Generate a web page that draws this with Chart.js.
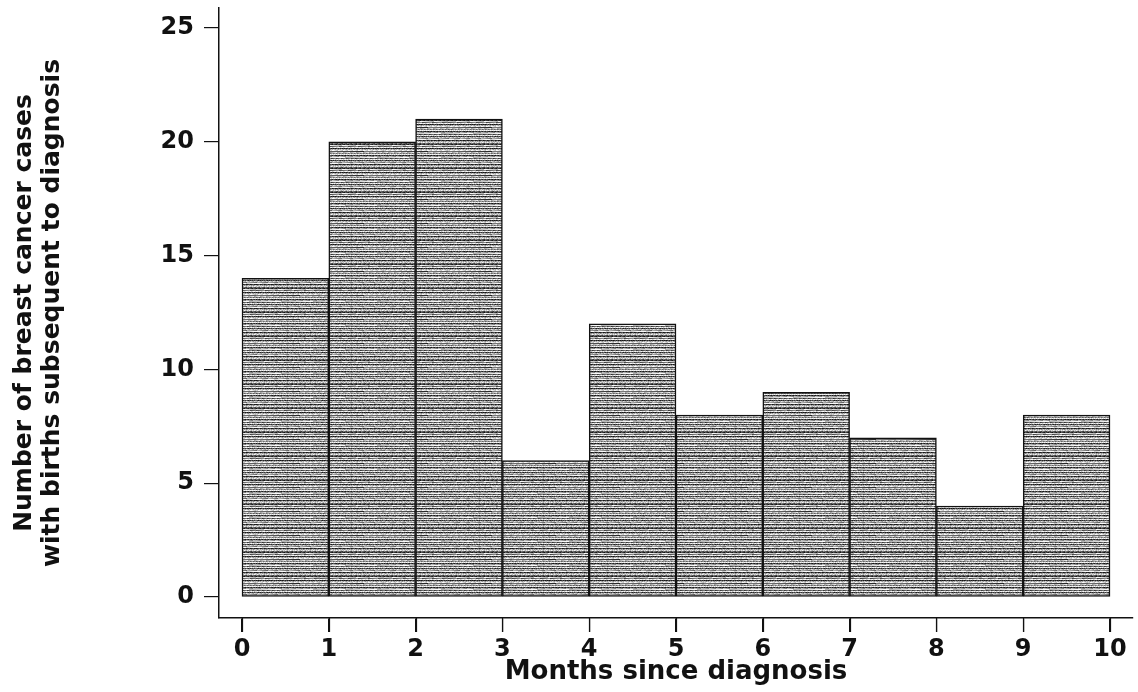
<!DOCTYPE html>
<html>
<head>
<meta charset="utf-8">
<script src="https://cdn.jsdelivr.net/npm/chart.js@4/dist/chart.umd.min.js"></script>
<style>
  html, body { margin: 0; padding: 0; background: #fff; }
  #wrap { width: 1138px; height: 692px; }
</style>
</head>
<body>
<div id="wrap"><canvas id="histChart"></canvas></div>
<script>
"use strict";
// month bins (left edge) and counts
var binStart = [0, 1, 2, 3, 4, 5, 6, 7, 8, 9];
var cases = [14, 20, 21, 6, 12, 8, 9, 7, 4, 8];
var xTicks = [0, 1, 2, 3, 4, 5, 6, 7, 8, 9, 10];
var yTicks = [0, 5, 10, 15, 20, 25];

/* horizontal streak texture like the printed figure, with a bit of speckle */
function makeTexture() {
    var w = 64, h = 24;
    var c = document.createElement('canvas');
    c.width = w;
    c.height = h;
    var g = c.getContext('2d');
    var rows = [58, 216, 106, 238, 46, 176, 228, 80, 200, 124, 242, 54,
                160, 220, 90, 232, 68, 188, 138, 240, 48, 168, 208, 96];
    var img = g.createImageData(w, h);
    for (var y = 0; y < h; y++) {
        for (var x = 0; x < w; x++) {
            var n = ((x * 73 + y * 151 + x * y * 17) % 97) / 97;
            var v = rows[y] + (n - 0.5) * 90;
            v = Math.max(20, Math.min(250, v));
            var k = (y * w + x) * 4;
            img.data[k] = img.data[k + 1] = img.data[k + 2] = v;
            img.data[k + 3] = 255;
        }
    }
    g.putImageData(img, 0, 0);
    return g.createPattern(c, 'repeat');
}

// tick marks under the x axis (drawn from the x scale)
var xTickMarks = {
    id: 'xTickMarks',
    afterDraw: function(chart) {
        var xs = chart.scales.x;
        var c = chart.ctx;
        c.save();
        c.strokeStyle = '#111';
        c.lineWidth = 1.2;
        c.beginPath();
        xTicks.forEach(function(v) {
            var px = Math.round(xs.getPixelForValue(v)) + 0.5;
            c.moveTo(px, xs.top);
            c.lineTo(px, xs.top + 14);
        });
        c.stroke();
        c.restore();
    }
};

var points = binStart.map(function(b, i) { return { x: b + 0.5, y: cases[i] }; });

var ctx = document.getElementById('histChart').getContext('2d');
var histChart = new Chart(ctx, {
    type: 'bar',
    data: {
        datasets: [{
            data: points,
            backgroundColor: makeTexture(),
            borderColor: '#111',
            borderWidth: 1.5,
            borderSkipped: false,
            barPercentage: 1.0,
            categoryPercentage: 1.0
        }]
    },
    plugins: [xTickMarks],
    options: {
        responsive: true,
        maintainAspectRatio: false,
        animation: false,
        layout: { padding: { top: 8, right: 5, left: 0, bottom: 0 } },
        plugins: { legend: { display: false }, tooltip: { enabled: false } },
        scales: {
            x: {
                type: 'linear',
                min: -0.265,
                max: 10.265,
                offset: false,
                afterBuildTicks: function(scale) {
                    scale.ticks = xTicks.map(function(v) { return { value: v }; });
                },
                afterFit: function(scale) {
                    scale.height = 74;
                    scale.paddingLeft = 0;
                    scale.paddingRight = 0;
                },
                grid: {
                    offset: false, display: true, drawOnChartArea: false, drawTicks: true,
                    tickLength: 14, color: '#111', lineWidth: 1.2
                },
                border: { display: true, color: '#111', width: 1.5 },
                ticks: {
                    color: '#111',
                    padding: 3,
                    maxRotation: 0,
                    font: { family: 'DejaVu Sans', size: 24, weight: 'bold' }
                },
                title: {
                    display: true,
                    text: 'Months since diagnosis',
                    color: '#111',
                    padding: { top: 0, bottom: 5 },
                    font: { family: 'DejaVu Sans', size: 26, weight: 'bold', lineHeight: 1.1 }
                }
            },
            y: {
                min: -0.92,
                max: 25.88,
                afterBuildTicks: function(scale) {
                    scale.ticks = yTicks.map(function(v) { return { value: v }; });
                },
                afterFit: function(scale) {
                    scale.width = 219;
                    scale.paddingTop = 0;
                    scale.paddingBottom = 0;
                },
                grid: {
                    drawOnChartArea: false, drawTicks: true, tickLength: 15,
                    color: '#111', lineWidth: 1.2
                },
                border: { display: true, color: '#111', width: 1.5 },
                ticks: {
                    color: '#111',
                    padding: 10,
                    font: { family: 'DejaVu Sans', size: 24, weight: 'bold' }
                },
                title: {
                    display: true,
                    text: ['Number of breast cancer cases', 'with births subsequent to diagnosis'],
                    color: '#111',
                    padding: { top: 10, bottom: 0 },
                    font: { family: 'DejaVu Sans', size: 25, weight: 'bold', lineHeight: 1.12 }
                }
            }
        }
    }
});
</script>
</body>
</html>
